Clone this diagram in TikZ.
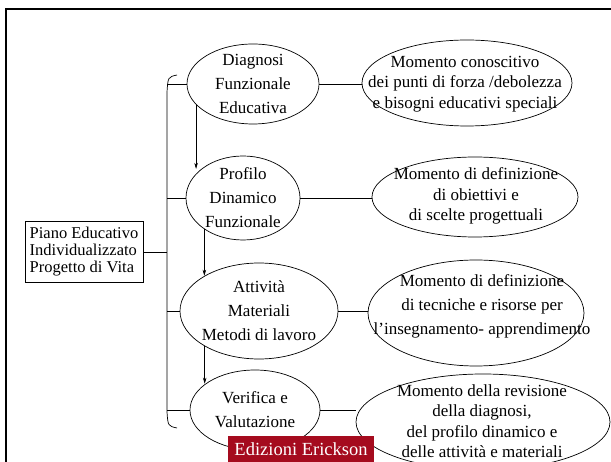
\documentclass[tikz,border=0pt]{standalone}
\usepackage{fontspec}
\setmainfont{Liberation Serif}
\usetikzlibrary{shapes.geometric,arrows.meta}
\definecolor{erickrot}{HTML}{A50B1E}

\tikzset{
  bolla/.style={draw, ellipse, line width=0.7pt, inner sep=0pt},
  fasetesto/.style={inner sep=0pt, align=center, font=\fontsize{17}{24}\selectfont},
  momtesto/.style={inner sep=0pt, align=center, font=\fontsize{17}{20.5}\selectfont},
  piano/.style={draw, line width=0.7pt, inner sep=0pt, align=left,
    minimum width=118pt, minimum height=61pt, font=\fontsize{16.5}{17}\selectfont},
  pfeil/.style={-{Stealth[length=6pt,width=3.5pt]}, line width=0.5pt},
  linie/.style={line width=0.7pt}
}

\begin{document}
\begin{tikzpicture}[x=1pt, y=-1pt]
  \useasboundingbox (0,0) rectangle (611,462);
  \draw[line width=2.5pt] (6,462) -- (6,9) -- (611,9);

  % Piano
  \node[piano] (pei) at (84,252) {Piano Educativo\\Individualizzato\\Progetto di Vita};

  % fasi
  \node[bolla, minimum width=132pt, minimum height=80pt] (diag) at (253,84) {};
  \node[fasetesto] (diagt) at (diag) {Diagnosi\\Funzionale\\Educativa};
  \node[bolla, minimum width=114pt, minimum height=84pt] (prof) at (243,198) {};
  \node[fasetesto] (proft) at (prof) {Profilo\\Dinamico\\Funzionale};
  \node[bolla, minimum width=158pt, minimum height=96pt] (att) at (259,311) {};
  \node[fasetesto] (attt) at (att) {Attività\\Materiali\\Metodi di lavoro};
  \node[bolla, minimum width=130pt, minimum height=80pt] (ver) at (255,410) {};
  \node[fasetesto] (vert) at (ver) {Verifica e\\Valutazione};

  % momenti
  \node[bolla, minimum width=210pt, minimum height=86pt] (mdiag) at (467,83) {};
  \node[momtesto] (mdiagt) at (465,84)
    {Momento conoscitivo\\dei punti di forza /debolezza\\e bisogni educativi speciali};
  \node[bolla, minimum width=206pt, minimum height=80pt] (mprof) at (475,197) {};
  \node[momtesto] (mproft) at (476,196)
    {Momento di definizione\\di obiettivi e\\di scelte progettuali};
  \node[bolla, minimum width=216pt, minimum height=106pt] (matt) at (476,313) {};
  \node[momtesto, font=\fontsize{17}{24}\selectfont] (mattt) at (482,306)
    {Momento di definizione\\di tecniche e risorse per\\l’insegnamento- apprendimento};
  \node[bolla, minimum width=254pt, minimum height=96pt] (mver) at (483,422) {};
  \node[momtesto] (mvert) at (482,421)
    {Momento della revisione\\della diagnosi,\\del profilo dinamico e\\delle attività e materiali};

  % parentesi
  \coordinate (kl) at (167,252);
  \draw[linie] (177,75) .. controls (168,77) .. (167,92) -- (167,412) .. controls (168,426) .. (177,428);
  \draw[linie] (pei.east) -- (kl);
  \draw[linie] (diag.west) -- (diag.west -| kl);
  \draw[linie] (prof.west) -- (prof.west -| kl);
  \draw[linie] (att.west) -- (att.west -| kl);
  \draw[linie] (ver.west) -- (ver.west -| kl);

  % collegamenti
  \draw[linie] (diag.east) -- (diag.east -| mdiag.west);
  \draw[linie] (prof.east) -- (prof.east -| mprof.west);
  \draw[linie] (att.east) -- (att.east -| matt.west);
  \draw[linie] (ver.east) -- (ver.east -| mver.west);

  % frecce
  \draw[pfeil] (diag.200) -- (diag.200 |- prof.145);
  \draw[pfeil] (prof.219) -- (prof.219 |- att.147);
  \draw[pfeil] (att.213) -- (att.213 |- ver.152);

  \node[fill=erickrot, text=white, minimum width=146pt, minimum height=26pt, inner sep=0pt,
    font=\fontsize{18.5}{20}\selectfont] (erick) at (301,449) {Edizioni Erickson};
\end{tikzpicture}
\end{document}
